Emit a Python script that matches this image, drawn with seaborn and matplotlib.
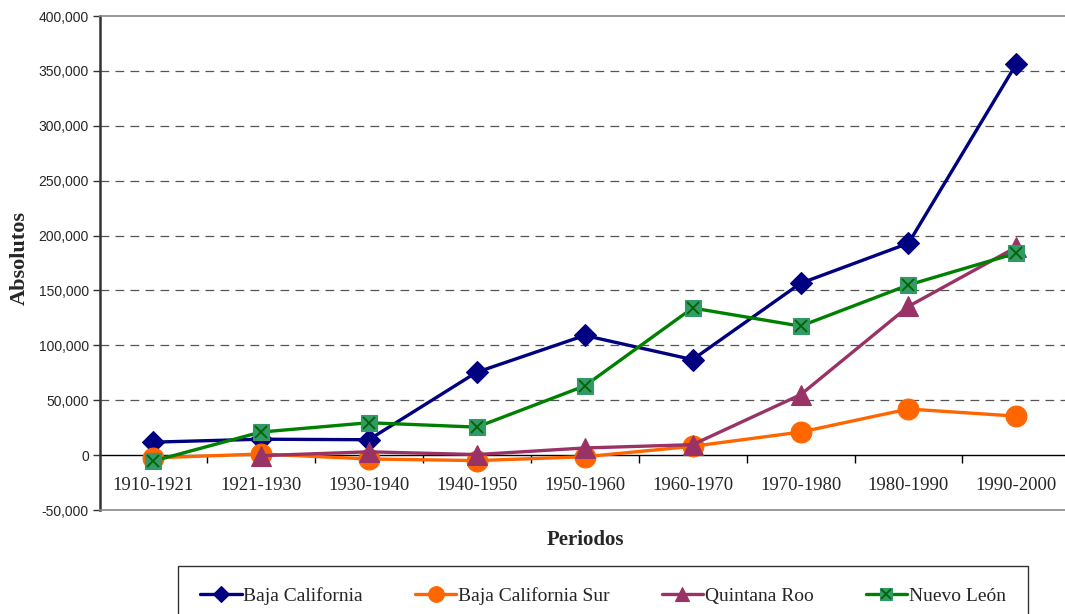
import numpy as np
import pandas as pd
import matplotlib
matplotlib.use("Agg")
import matplotlib.pyplot as plt
import seaborn as sns
from matplotlib.legend_handler import HandlerTuple
from matplotlib.ticker import FuncFormatter, FixedLocator

periods = ["1910-1921", "1921-1930", "1930-1940", "1940-1950", "1950-1960",
           "1960-1970", "1970-1980", "1980-1990", "1990-2000"]
baja_california = [11800, 14500, 14000, 75500, 109000, 87000, 156500, 193000, 356500]
baja_california_sur = [-2500, 1000, -3500, -5000, -1500, 8000, 21000, 42000, 35500]
quintana_roo = [np.nan, -500, 3000, 500, 6500, 9500, 55000, 135500, 189500]
nuevo_leon = [-5500, 21000, 29500, 25500, 63000, 134000, 117500, 155000, 184000]

series_names = ["Baja California", "Baja California Sur", "Quintana Roo", "Nuevo León"]
y_ticks = list(range(-50000, 400001, 50000))

sns.set_theme(style="white")
plt.rcParams["font.family"] = ["Liberation Sans", "DejaVu Sans"]

fig = plt.figure(figsize=(10.65, 6.14), dpi=100)
ax = fig.add_axes([100 / 1065, 1 - 510 / 614, 965 / 1065, (510 - 16) / 614])

pos = np.arange(len(periods))
df = pd.DataFrame({"pos": pos,
                   "Baja California": baja_california,
                   "Baja California Sur": baja_california_sur,
                   "Quintana Roo": quintana_roo,
                   "Nuevo León": nuevo_leon})

lw = 2.4
# grid lines first
for v in y_ticks[2:-1]:
    ax.axhline(v, color="#555555", lw=0.9, ls=(0, (7, 5)), zorder=1)

styles = {
    "Baja California": dict(color="#000080", marker="D", ms=11, mfc="#000080", mec="#000080"),
    "Baja California Sur": dict(color="#FF6600", marker="o", ms=15, mfc="#FF6600", mec="#FF6600"),
    "Quintana Roo": dict(color="#993366", marker="^", ms=14, mfc="#993366", mec="#993366"),
    "Nuevo León": dict(color="#008000", marker="s", ms=11, mfc="#339966", mec="#339966"),
}
handles = []
for i, name in enumerate(series_names):
    st = styles[name]
    sns.lineplot(data=df, x="pos", y=name, ax=ax, color=st["color"], lw=lw,
                 marker=st["marker"], markersize=st["ms"], markerfacecolor=st["mfc"],
                 markeredgecolor=st["mec"], markeredgewidth=0.8, zorder=3 + i,
                 legend=False)
    line = ax.lines[-1]
    if name == "Nuevo León":
        sub = df.dropna(subset=[name])
        ax.plot(sub["pos"], sub[name], ls="none", marker="x", ms=9, mew=1.3,
                color="#006400", zorder=3 + i + 0.5)
        xline = ax.lines[-1]
        handles.append((line, xline))
    else:
        handles.append(line)

ax.set_xlim(-0.49, 8.45)
ax.set_ylim(-50000, 400000)
ax.yaxis.set_major_locator(FixedLocator(y_ticks))
ax.yaxis.set_major_formatter(FuncFormatter(lambda v, p: f"{int(v):,}"))
ax.tick_params(axis="y", which="major", direction="out", length=5, width=1,
               color="#333333", labelsize=10, pad=3, left=True)
ax.set_xticks([])
ax.set_xlabel("")
ax.set_ylabel("")

for s in ["top", "bottom"]:
    ax.spines[s].set_color("#888888")
    ax.spines[s].set_linewidth(1.2)
ax.spines["left"].set_color("#333333")
ax.spines["left"].set_linewidth(1.8)
ax.spines["right"].set_visible(False)

# category axis on the zero line
ymin, ymax = ax.get_ylim()
sec = ax.secondary_xaxis((0 - ymin) / (ymax - ymin))
sec.spines["bottom"].set_color("black")
sec.spines["bottom"].set_linewidth(1.0)
sec.set_xticks(pos[:-1] + 0.5)
sec.set_xticks(pos, labels=periods, minor=True)
sec.tick_params(axis="x", which="major", direction="out", length=6, width=1,
                color="black", labelbottom=False, bottom=True)
sec.tick_params(axis="x", which="minor", length=0, pad=16, labelsize=13.5)
for t in sec.get_xticklabels(minor=True):
    t.set_family(["Liberation Serif", "DejaVu Serif"])

fig.text(20 / 1065, 1 - 258 / 614, "Absolutos", rotation=90, ha="center", va="center",
         fontsize=16, fontweight="bold", family=["Liberation Serif", "DejaVu Serif"])
fig.text(585 / 1065, 1 - 540 / 614, "Periodos", ha="center", va="center",
         fontsize=15, fontweight="bold", family=["Liberation Serif", "DejaVu Serif"])

leg = fig.legend(handles, series_names, loc="upper center",
                 bbox_to_anchor=(603 / 1065, 1 - 566 / 614), ncol=4, frameon=True,
                 fancybox=False, edgecolor="black", handlelength=2.15,
                 handletextpad=0.1, columnspacing=2.65, borderpad=1.1,
                 borderaxespad=0, markerscale=0.75,
                 handler_map={tuple: HandlerTuple(ndivide=1, pad=0)},
                 prop={"family": ["Liberation Serif", "DejaVu Serif"], "size": 14})
leg.get_frame().set_linewidth(1.0)

fig.savefig("out.png", dpi=100)
